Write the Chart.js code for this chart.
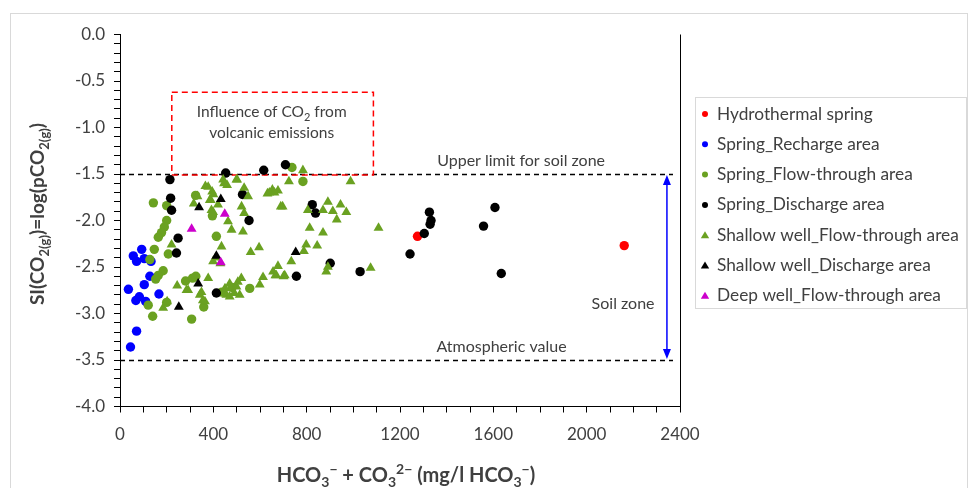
<!DOCTYPE html>
<html>
<head>
<meta charset="utf-8">
<title>SI(CO2) vs HCO3</title>
<script src="https://cdn.jsdelivr.net/npm/chart.js@4.4.0/dist/chart.umd.min.js"></script>
<style>
  html, body { margin: 0; padding: 0; background: #fff; }
  canvas { display: block; }
</style>
</head>
<body>
<canvas id="chart" width="970" height="488"></canvas>
<script>
/* ================= DATA ================= */
const xTickLabels = [0, 400, 800, 1200, 1600, 2000, 2400];
const yTickLabels = ["0.0", "-0.5", "-1.0", "-1.5", "-2.0", "-2.5", "-3.0", "-3.5", "-4.0"];

const seriesNames = [
  "Hydrothermal spring",
  "Spring_Recharge area",
  "Spring_Flow-through area",
  "Spring_Discharge area",
  "Shallow well_Flow-through area",
  "Shallow well_Discharge area",
  "Deep well_Flow-through area"
];

// [HCO3 mg/l, SI(CO2)]
const hydrothermalSpring = [[1275, -2.17], [2161, -2.27]];

const springRecharge = [
  [93, -2.31], [57, -2.38], [71, -2.44], [104, -2.41], [133, -2.44], [128, -2.60],
  [104, -2.69], [36, -2.74], [83, -2.82], [68, -2.86], [110, -2.87], [167, -2.79],
  [71, -3.19], [45, -3.36]
];

const springFlowThrough = [
  [143, -1.81], [200, -1.84], [200, -2.00], [190, -2.07], [178, -2.13], [164, -2.18],
  [147, -2.31], [207, -2.36], [128, -2.42], [185, -2.54], [164, -2.59], [153, -2.63],
  [281, -2.65], [311, -2.62], [200, -2.88], [121, -2.91], [140, -3.03], [307, -3.06],
  [324, -1.73], [413, -2.17], [325, -2.60], [359, -2.93], [737, -1.43], [784, -1.58],
  [396, -1.95], [556, -2.73], [480, -2.72], [436, -2.77]
];

const springDischarge = [
  [214, -1.56], [217, -1.76], [221, -1.89], [249, -2.19], [242, -2.35], [413, -2.78],
  [453, -1.49], [525, -1.72], [553, -2.00], [616, -1.46], [709, -1.40], [756, -2.60],
  [824, -1.83], [838, -1.92], [901, -2.46], [1029, -2.55], [1243, -2.36], [1304, -2.14],
  [1326, -1.91], [1329, -2.04], [1333, -2.00], [1558, -2.06], [1607, -1.86], [1634, -2.57]
];

const shallowFlowThrough = [
  [378, -1.64], [395, -1.69], [332, -1.74], [389, -1.78], [392, -1.89], [442, -1.56],
  [459, -1.62], [502, -1.56], [532, -1.65], [549, -1.74], [521, -1.85], [532, -1.92],
  [632, -1.71], [653, -1.67], [463, -2.01], [478, -2.10], [527, -2.12], [435, -2.28],
  [560, -2.34], [596, -2.29], [399, -2.44], [378, -2.62], [349, -2.77], [364, -2.87],
  [470, -2.68], [499, -2.71], [520, -2.62], [456, -2.80], [513, -2.80], [613, -2.61],
  [599, -2.69], [656, -2.55], [784, -1.46], [724, -1.58], [988, -1.58], [677, -1.68],
  [689, -1.85], [805, -1.89], [891, -1.80], [870, -1.89], [912, -1.90], [945, -1.83],
  [970, -1.91], [929, -1.99], [813, -2.08], [870, -2.13], [798, -2.26], [845, -2.27],
  [788, -2.33], [734, -2.44], [677, -2.49], [706, -2.59], [670, -2.59], [891, -2.50],
  [884, -2.55], [1108, -2.08], [1074, -2.51], [316, -1.82], [221, -2.26], [245, -2.70],
  [285, -2.75], [185, -2.94], [202, -2.87], [385, -1.78], [399, -1.91], [446, -1.60],
  [499, -1.56], [640, -1.70], [662, -1.70], [697, -1.85], [666, -2.59], [701, -2.60],
  [450, -2.73], [490, -2.78], [505, -2.66], [470, -2.82], [342, -2.80], [355, -2.86],
  [292, -2.75], [366, -1.63], [400, -1.72], [420, -1.83], [410, -2.40], [430, -2.46]
];

const shallowDischarge = [
  [432, -1.77], [339, -1.86], [753, -2.34], [413, -2.38], [335, -2.68], [252, -2.93]
];

const deepFlowThrough = [[449, -1.93], [307, -2.09], [432, -2.45]];

/* ================= ANNOTATIONS ================= */
const soilUpper = -1.5;
const atmospheric = -3.5;
const limitLineEnd = 2370;
const volcanicBox = { x0: 222, x1: 1086, y0: -0.62, y1: -1.51 };
const soilArrowX = 2344;

/* ================= STYLE ================= */
const FONT = "Lato, 'Open Sans', sans-serif";
const TEXT = "#404040";
const GREEN = "#6AA121";

const styles = [
  { color: "#FF0000", shape: "circle" },
  { color: "#0000FF", shape: "circle" },
  { color: GREEN, shape: "circle" },
  { color: "#000000", shape: "circle" },
  { color: GREEN, shape: "triangle" },
  { color: "#000000", shape: "triangle" },
  { color: "#CC00CC", shape: "triangle" }
];

const allSeries = [
  hydrothermalSpring, springRecharge, springFlowThrough, springDischarge,
  shallowFlowThrough, shallowDischarge, deepFlowThrough
];

const datasets = allSeries.map((pts, i) => ({
  label: seriesNames[i],
  data: pts.map(p => ({ x: p[0], y: p[1] })),
  pointStyle: styles[i].shape,
  pointRadius: styles[i].shape === "circle" ? 4.7 : 5.7,
  backgroundColor: styles[i].color,
  borderColor: styles[i].color,
  borderWidth: 0,
  order: allSeries.length - i
}));

/* rich text: parts = [[text, "" | "sub" | "sup"], ...] centred on x */
function drawRich(ctx, parts, x, y, size, weight) {
  const small = Math.round(size * 0.68);
  const fontFor = k => `${weight} ${k ? small : size}px ${FONT}`;
  let width = 0;
  parts.forEach(([t, k]) => { ctx.font = fontFor(k); width += ctx.measureText(t).width; });
  let cx = x - width / 2;
  ctx.textAlign = "left";
  ctx.textBaseline = "alphabetic";
  parts.forEach(([t, k]) => {
    ctx.font = fontFor(k);
    const dy = k === "sub" ? size * 0.25 : k === "sup" ? -size * 0.38 : 0;
    ctx.fillText(t, cx, y + dy);
    cx += ctx.measureText(t).width;
  });
}

const annotationPlugin = {
  id: "annotations",
  beforeDatasetsDraw(chart) {
    const { ctx, scales: { x, y }, chartArea } = chart;
    ctx.save();

    // soil zone limits
    ctx.strokeStyle = "#000";
    ctx.lineWidth = 1.3;
    ctx.setLineDash([5, 4]);
    [soilUpper, atmospheric].forEach(v => {
      const py = Math.round(y.getPixelForValue(v)) + 0.5;
      ctx.beginPath();
      ctx.moveTo(x.getPixelForValue(0), py);
      ctx.lineTo(x.getPixelForValue(limitLineEnd), py);
      ctx.stroke();
    });

    // volcanic influence box
    ctx.strokeStyle = "#FF0000";
    ctx.lineWidth = 1.5;
    ctx.setLineDash([6, 4]);
    const bx0 = x.getPixelForValue(volcanicBox.x0);
    const bx1 = x.getPixelForValue(volcanicBox.x1);
    const by0 = y.getPixelForValue(volcanicBox.y0);
    const by1 = y.getPixelForValue(volcanicBox.y1);
    ctx.strokeRect(bx0, by0, bx1 - bx0, by1 - by0);
    ctx.setLineDash([]);

    // soil zone arrow
    const ax = x.getPixelForValue(soilArrowX);
    const ayTop = y.getPixelForValue(soilUpper) + 1;
    const ayBot = y.getPixelForValue(atmospheric) - 1;
    ctx.strokeStyle = "#0000FF";
    ctx.fillStyle = "#0000FF";
    ctx.lineWidth = 1.5;
    ctx.beginPath();
    ctx.moveTo(ax, ayTop + 8);
    ctx.lineTo(ax, ayBot - 8);
    ctx.stroke();
    ctx.beginPath();
    ctx.moveTo(ax, ayTop); ctx.lineTo(ax - 4, ayTop + 10); ctx.lineTo(ax + 4, ayTop + 10);
    ctx.closePath(); ctx.fill();
    ctx.beginPath();
    ctx.moveTo(ax, ayBot); ctx.lineTo(ax - 4, ayBot - 10); ctx.lineTo(ax + 4, ayBot - 10);
    ctx.closePath(); ctx.fill();

    // texts
    ctx.fillStyle = TEXT;
    ctx.textAlign = "center";
    ctx.textBaseline = "middle";
    ctx.font = `16px ${FONT}`;
    ctx.fillText("Upper limit for soil zone", x.getPixelForValue(1719), y.getPixelForValue(-1.36));
    ctx.fillText("Atmospheric value", x.getPixelForValue(1635), y.getPixelForValue(-3.36));
    ctx.fillText("Soil zone", x.getPixelForValue(2156), y.getPixelForValue(-2.90));
    drawRich(ctx, [["Influence of CO", ""], ["2", "sub"], [" from", ""]],
      x.getPixelForValue(650), y.getPixelForValue(-0.83) + 5, 15.5, "normal");
    ctx.textAlign = "center";
    ctx.textBaseline = "middle";
    ctx.font = `15.5px ${FONT}`;
    ctx.fillText("volcanic emissions", x.getPixelForValue(650), y.getPixelForValue(-1.06));

    // right border of plot area
    ctx.strokeStyle = "#000";
    ctx.lineWidth = 1;
    ctx.beginPath();
    ctx.moveTo(Math.round(chartArea.right) + 0.5, chartArea.top);
    ctx.lineTo(Math.round(chartArea.right) + 0.5, chartArea.bottom);
    ctx.stroke();

    ctx.restore();
  },
  afterDraw(chart) {
    const { ctx, chartArea } = chart;
    ctx.save();

    // outer chart frame
    ctx.strokeStyle = "#D9D9D9";
    ctx.lineWidth = 1;
    ctx.strokeRect(10.5, 13.5, 957, 490);

    // axis titles
    ctx.fillStyle = TEXT;
    drawRich(ctx, [
      ["HCO", ""], ["3", "sub"], ["\u2212", "sup"], [" + CO", ""], ["3", "sub"], ["2\u2212", "sup"],
      [" (mg/l HCO", ""], ["3", "sub"], ["\u2212", "sup"], [")", ""]
    ], (chartArea.left + chartArea.right) / 2 + 6, 482, 20, "bold");

    ctx.save();
    ctx.translate(44, 214);
    ctx.rotate(-Math.PI / 2);
    drawRich(ctx, [
      ["SI(CO", ""], ["2(g)", "sub"], [")=log(pCO", ""], ["2(g)", "sub"], [")", ""]
    ], 0, 0, 19, "bold");
    ctx.restore();

    // legend
    ctx.strokeStyle = "#D9D9D9";
    ctx.strokeRect(695.5, 97.5, 271, 211);
    chart.data.datasets.forEach((ds, i) => {
      const cy = 114 + i * 30.3;
      const mx = 705;
      ctx.fillStyle = ds.backgroundColor;
      ctx.beginPath();
      if (ds.pointStyle === "circle") {
        ctx.arc(mx, cy, 3, 0, Math.PI * 2);
      } else {
        ctx.moveTo(mx, cy - 4);
        ctx.lineTo(mx + 4.2, cy + 3);
        ctx.lineTo(mx - 4.2, cy + 3);
        ctx.closePath();
      }
      ctx.fill();
      ctx.fillStyle = TEXT;
      ctx.font = `17.3px ${FONT}`;
      ctx.textAlign = "left";
      ctx.textBaseline = "middle";
      ctx.fillText(ds.label, 717, cy);
    });

    ctx.restore();
  }
};

/* ================= CHART ================= */
const isYLabel = v => yTickLabels.includes(v.toFixed(1)) && Math.abs(v * 2 - Math.round(v * 2)) < 1e-6;

new Chart(document.getElementById("chart"), {
  type: "scatter",
  data: { datasets },
  options: {
    responsive: false,
    animation: false,
    devicePixelRatio: 1,
    layout: { padding: { top: 34.5, right: 290, left: 0, bottom: 0 } },
    plugins: { legend: { display: false }, tooltip: { enabled: false } },
    scales: {
      x: {
        type: "linear",
        min: 0,
        max: 2400,
        ticks: {
          stepSize: 100,
          autoSkip: false,
          maxRotation: 0,
          padding: 12,
          color: TEXT,
          font: { family: FONT, size: 17 },
          callback: v => (xTickLabels.includes(v) ? String(v) : "")
        },
        grid: { drawOnChartArea: false, tickLength: 6, color: "#000" },
        border: { color: "#000", width: 1 },
        afterFit: s => { s.height = 81.5; }
      },
      y: {
        type: "linear",
        min: -4,
        max: 0,
        ticks: {
          stepSize: 0.1,
          autoSkip: false,
          padding: 9,
          color: TEXT,
          font: { family: FONT, size: 17 },
          callback: v => (isYLabel(v) ? v.toFixed(1) : "")
        },
        grid: { drawOnChartArea: false, tickLength: 6, color: "#000" },
        border: { color: "#000", width: 1 },
        afterFit: s => { s.width = 120; }
      }
    }
  },
  plugins: [annotationPlugin]
});
</script>
</body>
</html>
